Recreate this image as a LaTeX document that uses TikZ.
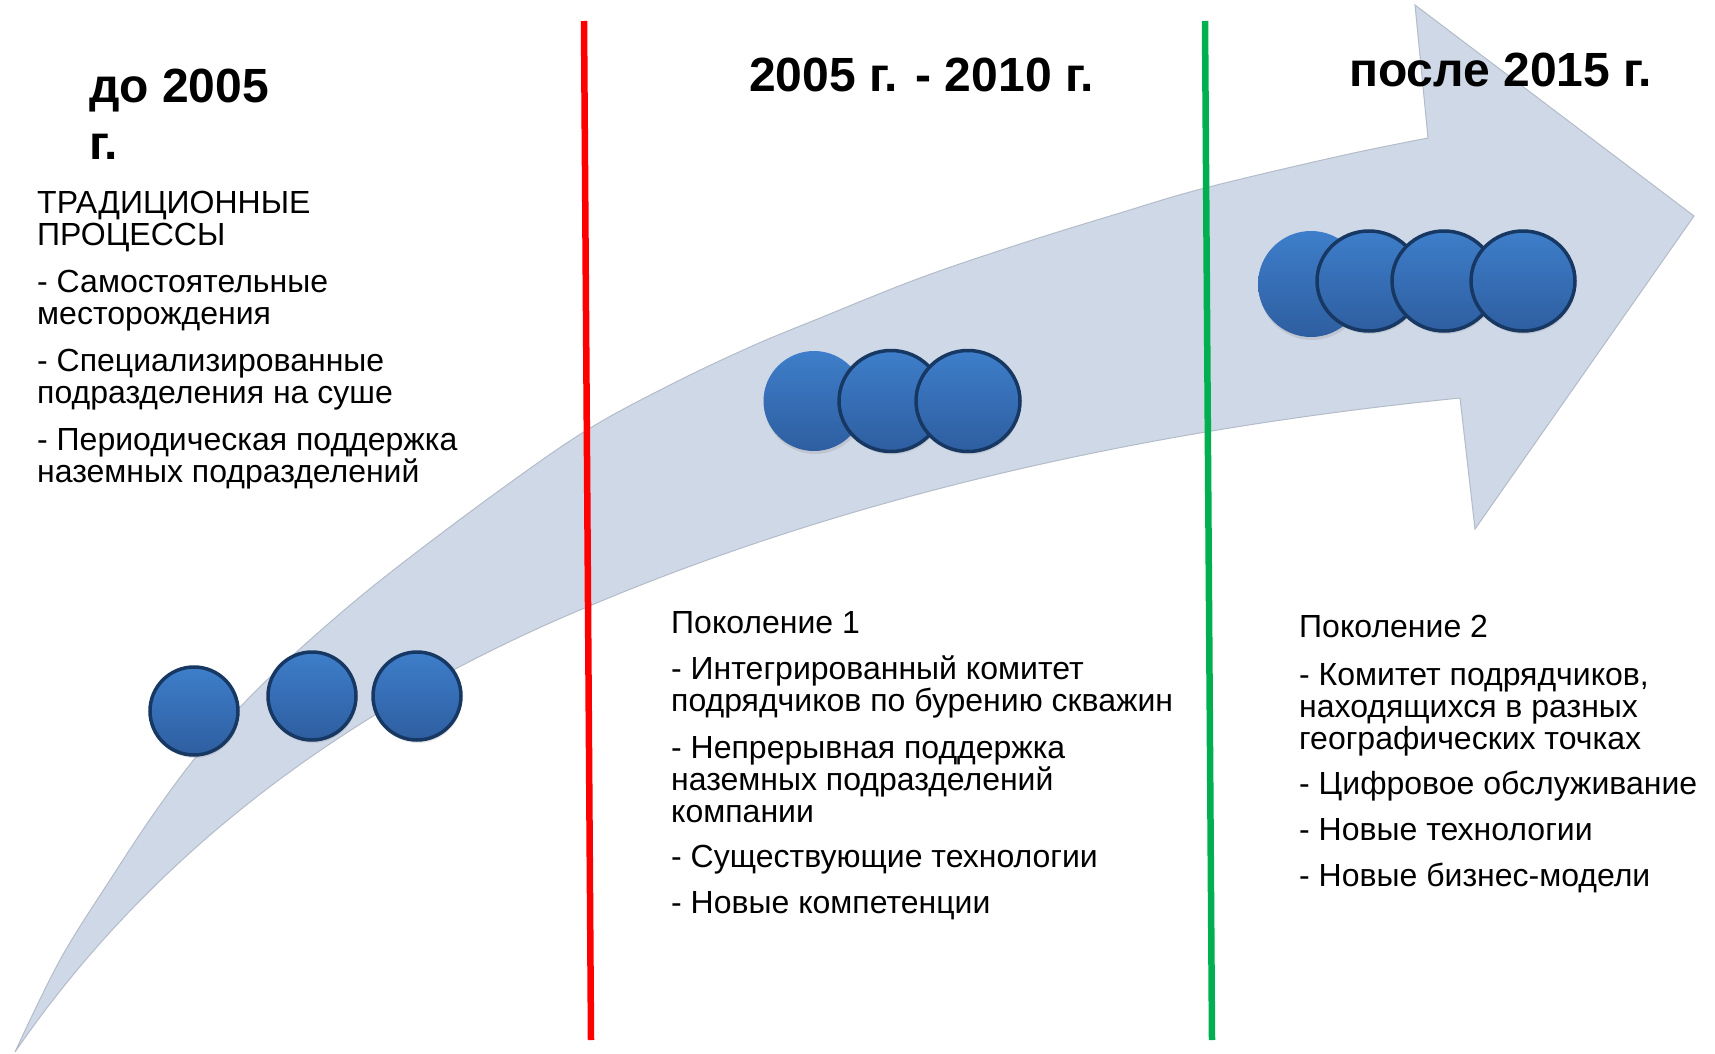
\documentclass[tikz,border=0pt]{standalone}
\usepackage{fontspec}
\setmainfont{Liberation Sans}
\usetikzlibrary{shapes.geometric, shadows}

\definecolor{bandfill}{RGB}{207,216,230}
\definecolor{bandedge}{RGB}{180,188,202}
\definecolor{ballhi}{RGB}{62,126,202}
\definecolor{balllo}{RGB}{46,94,160}
\definecolor{ballrim}{RGB}{24,56,100}
\definecolor{linered}{RGB}{255,0,0}
\definecolor{linegreen}{RGB}{0,176,80}

\begin{document}
\begin{tikzpicture}[
  x=1pt, y=-1pt,
  ball/.style={ellipse, inner sep=0pt, draw=ballrim, line width=3.5pt,
               top color=ballhi, bottom color=balllo,
               drop shadow={opacity=0.2, shadow xshift=1pt, shadow yshift=-3pt}},
  softball/.style={ball, draw=none},
  % multi-line nodes sit on the baseline of their last line
  period/.style={anchor=base west, inner sep=0pt, align=left,
                 font=\fontsize{48}{57}\selectfont\bfseries},
  notes/.style={anchor=base west, inner sep=0pt, align=left,
                font=\fontsize{32}{32}\selectfont},
  divider/.style={line width=6.5pt},
]
  \useasboundingbox (0,0) rectangle (1715,1054);
  \fill[white] (0,0) rectangle (1715,1054);

  % curved arrow
  \filldraw[fill=bandfill, draw=bandedge, line width=1pt]
    plot[smooth, tension=0.6] coordinates {(15,1052) (60,960) (110,880) (160,805)
      (210,740) (270,677) (335,618) (400,565) (500,490) (587,430) (670,385)
      (750,347) (820,318) (920,278) (1020,244) (1120,213) (1205,188) (1340,156)
      (1428,138)}
    -- (1415,5) -- (1694,216) -- (1475,529) -- (1460,398)
    .. controls (1131,431) and (840,500) .. (587,607)
    .. controls (338,711) and (147,860) .. (15,1052)
    -- cycle;

  % period dividers
  \coordinate (redtop) at (584,21);
  \coordinate (redbot) at (591,1040);
  \coordinate (greentop) at (1205,21);
  \coordinate (greenbot) at (1212,1040);
  \draw[divider, linered] (redtop) -- (redbot);
  \draw[divider, linegreen] (greentop) -- (greenbot);

  % balls: before 2005
  \node[ball, minimum width=88pt, minimum height=88pt] (a1) at (194,711) {};
  \node[ball, minimum width=88pt, minimum height=88pt] (a2) at (312,696) {};
  \node[ball, minimum width=88pt, minimum height=88pt] (a3) at (417,696) {};

  % balls: generation 1
  \node[softball, minimum width=101pt, minimum height=100pt] (b1) at (814,401) {};
  \node[ball, minimum width=104pt, minimum height=101pt] (b2) at (891,401) {};
  \node[ball, minimum width=104pt, minimum height=101pt] (b3) at (968,401) {};

  % balls: generation 2
  \node[softball, minimum width=106pt, minimum height=106pt] (c1) at (1311,284) {};
  \node[ball, minimum width=104pt, minimum height=100pt] (c2) at (1369,281) {};
  \node[ball, minimum width=104pt, minimum height=100pt] (c3) at (1444,281) {};
  \node[ball, minimum width=104pt, minimum height=100pt] (c4) at (1523,281) {};

  % headings
  \node[period] (before) at (89,159) {до 2005\\г.};
  \node[period] (between) at (749,92) {2005 г. - 2010 г.};
  \node[period] (after) at (1349,87) {после 2015 г.};

  % descriptions
  \node[notes] (trad) at (37,482) {ТРАДИЦИОННЫЕ\\ПРОЦЕССЫ\\[15pt]
    - Самостоятельные\\месторождения\\[15pt]
    - Специализированные\\подразделения на суше\\[15pt]
    - Периодическая поддержка\\наземных подразделений};
  \node[notes] (gen1) at (671,913) {Поколение 1\\[14pt]
    - Интегрированный комитет\\подрядчиков по бурению скважин\\[15pt]
    - Непрерывная поддержка\\наземных подразделений\\компании\\[13pt]
    - Существующие технологии\\[14pt]
    - Новые компетенции};
  \node[notes] (gen2) at (1299,886) {Поколение 2\\[16pt]
    - Комитет подрядчиков,\\находящихся в разных\\географических точках\\[13pt]
    - Цифровое обслуживание\\[14pt]
    - Новые технологии\\[14pt]
    - Новые бизнес-модели};
\end{tikzpicture}
\end{document}
